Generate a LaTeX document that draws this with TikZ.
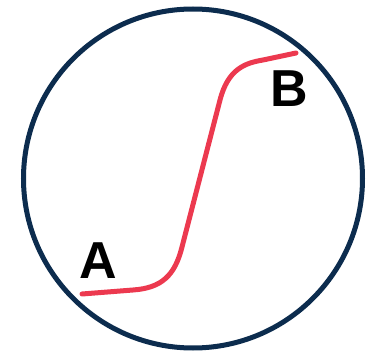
\documentclass[tikz,border=0pt]{standalone}
\usepackage{fontspec}
\setmainfont{Liberation Sans}
\usepackage{xcolor}
\usepackage{tikz}
\usetikzlibrary{positioning,calc}
\definecolor{rimnavy}{HTML}{0C2C4E}
\definecolor{pathred}{HTML}{EC394F}
\tikzset{
  rim/.style    ={circle,draw=rimnavy,line width=5pt,minimum size=339pt,inner sep=0pt},
  route/.style  ={pathred,line width=5pt,line cap=round,line join=round},
  lbl/.style    ={font=\fontsize{52}{52}\selectfont\bfseries,inner sep=0pt},
}
\begin{document}
\begin{tikzpicture}[x=1pt,y=1pt]
  \useasboundingbox (0,0) rectangle (373,357);
  % outer circle
  \node[rim] (disk) at (193,178.5) {};
  % end points of the route
  \coordinate (start) at (82,63);
  \coordinate (stop)  at (296,304);
  % s-shaped route from A to B
  \draw[route] (start) -- (133,67)
        .. controls (162,69) and (175,82) .. (182,110)
        -- (220,257)
        .. controls (228,288) and (245,294) .. (263,297)
        -- (stop);
  % labels
  \node[lbl] (A) at (98.5,96) {A};
  \node[lbl] (B) at (289,268) {B};
\end{tikzpicture}
\end{document}
